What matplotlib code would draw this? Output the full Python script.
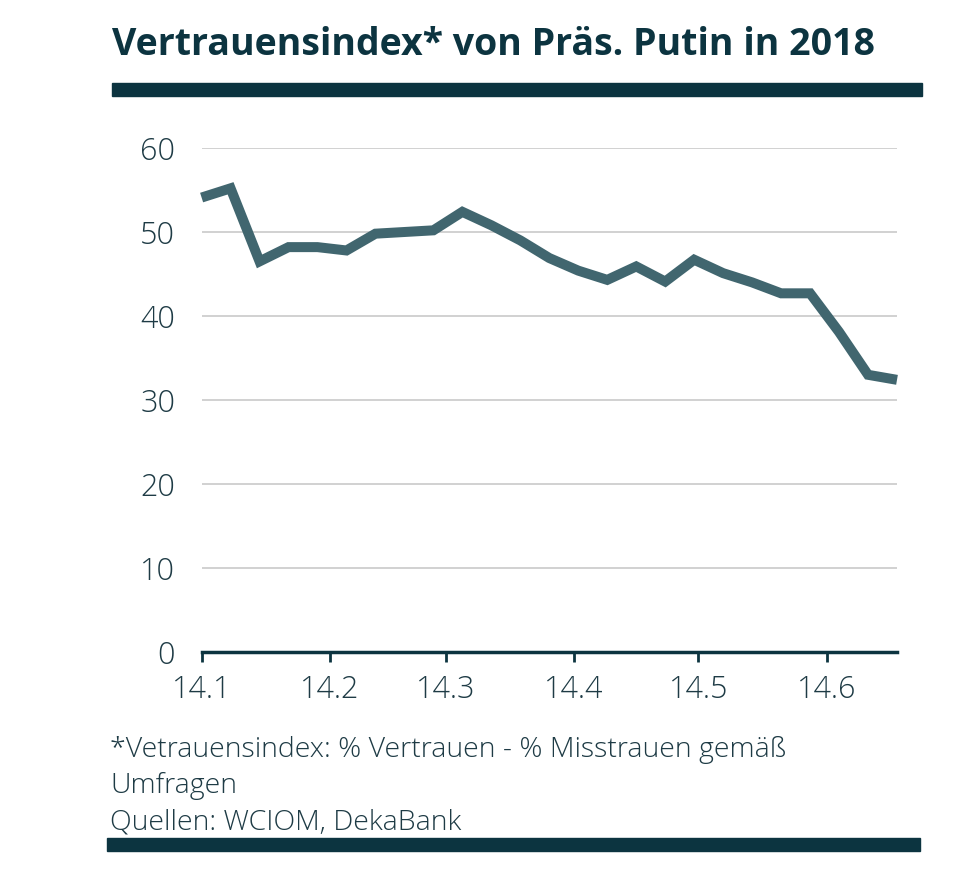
import matplotlib
matplotlib.use("Agg")
import matplotlib.pyplot as plt
from matplotlib.patches import Rectangle
import numpy as np

# Data
dates = ["2018-01-14", "2018-01-21", "2018-01-28", "2018-02-04", "2018-02-11",
         "2018-02-18", "2018-02-25", "2018-03-04", "2018-03-11", "2018-03-18",
         "2018-03-25", "2018-04-01", "2018-04-08", "2018-04-15", "2018-04-22",
         "2018-04-29", "2018-05-06", "2018-05-13", "2018-05-20", "2018-05-27",
         "2018-06-03", "2018-06-10", "2018-06-17", "2018-06-24", "2018-07-01"]
index_values = [54.1, 55.2, 46.5, 48.2, 48.2, 47.8, 49.8, 50.0, 50.2, 52.4,
                50.8, 49.0, 46.9, 45.4, 44.3, 45.9, 44.1, 46.7, 45.1, 44.0,
                42.7, 42.7, 38.1, 33.0, 32.4]
tick_dates = ["2018-01-14", "2018-02-14", "2018-03-14", "2018-04-14",
              "2018-05-14", "2018-06-14"]
tick_labels = ["14.1", "14.2", "14.3", "14.4", "14.5", "14.6"]
y_ticks = [0, 10, 20, 30, 40, 50, 60]

title = "Vertrauensindex* von Präs. Putin in 2018"
footnote_lines = ["*Vetrauensindex: % Vertrauen - % Misstrauen gemäß",
                  "Umfragen",
                  "Quellen: WCIOM, DekaBank"]

dark = "#0c3440"
line_col = "#41666f"
text_col = "#1e3b45"

plt.rcParams['font.family'] = ['Open Sans', 'DejaVu Sans']

W, H = 980, 894
fig = plt.figure(figsize=(W / 100, H / 100), dpi=100)
fig.patch.set_facecolor("white")

x = np.array(dates, dtype="datetime64[D]")
xt = np.array(tick_dates, dtype="datetime64[D]")

ax = fig.add_axes([201.6 / W, (H - 652) / H, (897 - 201.6) / W, 504 / H])
ax.plot(x, index_values, color=line_col, lw=7.2, solid_joinstyle="miter",
        solid_capstyle="butt", clip_on=False, zorder=3)
ax.set_xlim(x[0], x[-1])
ax.set_ylim(0, 60)
ax.set_yticks(y_ticks)
ax.set_xticks(xt)
ax.set_xticklabels(tick_labels)
ax.grid(axis="y", color="#c9c9c9", lw=1.2)
ax.set_axisbelow(True)
for s in ["top", "right", "left"]:
    ax.spines[s].set_visible(False)
ax.spines["bottom"].set_color(dark)
ax.spines["bottom"].set_linewidth(2.5)
ax.tick_params(axis="y", length=0, pad=19, labelsize=22, labelcolor=text_col)
ax.tick_params(axis="x", length=7, width=2, color=dark, pad=9,
               labelsize=22, labelcolor=text_col)
for lbl in ax.get_yticklabels() + ax.get_xticklabels():
    lbl.set_fontweight("light")

# Title
fig.text(112 / W, 1 - 45 / H, title, fontsize=27, fontweight="bold",
         color=dark, ha="left", va="center")
# Bars
fig.patches.append(Rectangle((112 / W, 1 - 96 / H), (922 - 112) / W, 13 / H,
                             transform=fig.transFigure, color=dark, zorder=5))
fig.patches.append(Rectangle((107 / W, 1 - 851 / H), (920 - 107) / W, 13 / H,
                             transform=fig.transFigure, color=dark, zorder=5))
# Footnote
for i, line in enumerate(footnote_lines):
    fig.text(110 / W, 1 - (750 + 36 * i) / H, line, fontsize=20.5,
             fontweight="light", color=text_col, ha="left", va="center")

fig.savefig("out.png", dpi=100, facecolor="white")
